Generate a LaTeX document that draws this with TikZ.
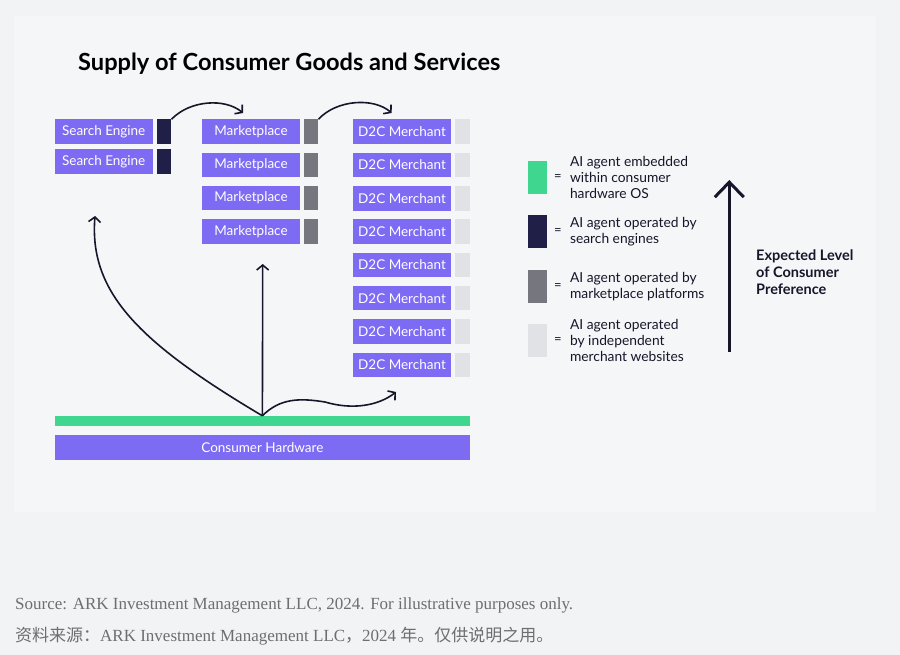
\documentclass[tikz,border=0pt]{standalone}
\usepackage{fontspec}
\setmainfont{Lato}
\newfontfamily\srcfont{Liberation Serif}
\newfontfamily\cjk{Noto Sans CJK SC}
\usepackage{xcolor}
\usepackage{tikz}
\usetikzlibrary{arrows.meta,positioning}
\definecolor{bgpage}{HTML}{F2F3F5}
\definecolor{bgpanel}{HTML}{F5F6F8}
\definecolor{boxpurple}{HTML}{7E6BF4}
\definecolor{osgreen}{HTML}{3FD690}
\definecolor{senavy}{HTML}{1F1F47}
\definecolor{mpgray}{HTML}{75767E}
\definecolor{dtclight}{HTML}{E1E2E6}
\definecolor{inkdark}{HTML}{16162A}
\definecolor{srcgray}{HTML}{6E6E72}

\begin{document}
\begin{tikzpicture}[x=1pt,y=-1pt,
  pbox/.style={fill=boxpurple,text=white,inner sep=0pt,minimum height=24.5pt,
    font=\fontsize{13.5}{15}\selectfont},
  tag/.style={inner sep=0pt,minimum width=14.6pt,minimum height=24.5pt},
  key/.style={inner sep=0pt,minimum width=18.4pt,minimum height=33.3pt},
  eqsign/.style={inner sep=0pt,text=inkdark,font=\fontsize{13}{15}\selectfont},
  keytext/.style={inner sep=0pt,align=left,text=inkdark,font=\fontsize{13.8}{15.9}\selectfont},
  flow/.style={-{Straight Barb[length=5pt,width=12pt]},line width=1.6pt,inkdark},
  bigflow/.style={-{Straight Barb[length=15pt,width=29pt]},line width=3pt,inkdark}]
\useasboundingbox (0,0) rectangle (900,655);
\fill[bgpage] (0,0) rectangle (900,655);
\fill[bgpanel] (14,16) rectangle (876,512);

\node[anchor=west,inner sep=0pt,text=black,font=\bfseries\fontsize{23.6}{26}\selectfont] (title) at (78,64) {Supply of Consumer Goods and Services};

\node[pbox,minimum width=98pt] (se1) at (103.7,131.7) {Search Engine};
\node[pbox,minimum width=98pt] (se2) at (103.7,161.7) {Search Engine};
\node[tag,fill=senavy] (set1) at (164,131.7) {};
\node[tag,fill=senavy] (set2) at (164,161.7) {};
\foreach \i in {1,...,4} {
  \node[pbox,minimum width=98pt] (mp\i) at (251,98.5+33.2*\i) {Marketplace};
  \node[tag,fill=mpgray] (mpt\i) at (311,98.5+33.2*\i) {};
}
\foreach \i in {1,...,8} {
  \node[pbox,minimum width=98.6pt] (dtc\i) at (402,98.4+33.3*\i) {D2C Merchant};
  \node[tag,fill=dtclight] (dtct\i) at (462.7,98.4+33.3*\i) {};
}
\node[inner sep=0pt,fill=osgreen,minimum width=415.3pt,minimum height=10pt] (os) at (262.4,421) {};
\node[pbox,minimum width=415.3pt,minimum height=25pt] (hw) at (262.4,447.5) {Consumer Hardware};

\coordinate (mpin) at (243,113);
\coordinate (dtcin) at (391.7,113);
\coordinate (seup) at (95,216);
\coordinate (mpup) at (262.7,264);
\coordinate (dtcup) at (396,392);
\draw[flow] (set1.north east) .. controls (190,100) and (225,98) .. (mpin);
\draw[flow] (mpt1.north east) .. controls (336,100) and (373,97) .. (dtcin);
\draw[flow] (os.north) .. controls (138,342) and (89,292) .. (seup);
\draw[flow] (os.north) -- (mpup);
\draw[flow] (os.north) .. controls (280,398) and (300,398) .. (325,402)
  .. controls (352,410) and (378,406) .. (dtcup);

\node[key,fill=osgreen] (k1) at (537.5,177.3) {};
\node[key,fill=senavy] (k2) at (537.5,231.7) {};
\node[key,fill=mpgray] (k3) at (537.5,286.7) {};
\node[key,fill=dtclight] (k4) at (537.5,340.7) {};
\foreach \i in {1,...,4}
  \node[eqsign,right=7pt of k\i] (eq\i) {=};
\node[keytext,right=8pt of eq1] (kt1) {AI agent embedded\\within consumer\\hardware OS};
\node[keytext,right=8pt of eq2] (kt2) {AI agent operated by\\search engines};
\node[keytext,right=8pt of eq3] (kt3) {AI agent operated by\\marketplace platforms};
\node[keytext,right=8pt of eq4] (kt4) {AI agent operated\\by independent\\merchant websites};

\coordinate (prlo) at (729.3,352);
\coordinate (prhi) at (729.3,180);
\draw[bigflow] (prlo) -- (prhi);
\node[anchor=west,inner sep=0pt,align=left,text=inkdark,font=\bfseries\fontsize{14.5}{17}\selectfont] (pref) at (756,272) {Expected Level\\of Consumer\\Preference};

\node[anchor=west,inner sep=0pt,text=srcgray,font=\srcfont\fontsize{17}{20}\selectfont] (src) at (15,605) {Source: ARK Investment Management LLC, 2024. For illustrative purposes only.};
\node[anchor=west,inner sep=0pt,text=srcgray,font=\srcfont\fontsize{17}{20}\selectfont] (srccn) at (15,636) {{\cjk 资料来源：}ARK Investment Management LLC{\cjk ，}2024 {\cjk 年。仅供说明之用。}};
\end{tikzpicture}
\end{document}
